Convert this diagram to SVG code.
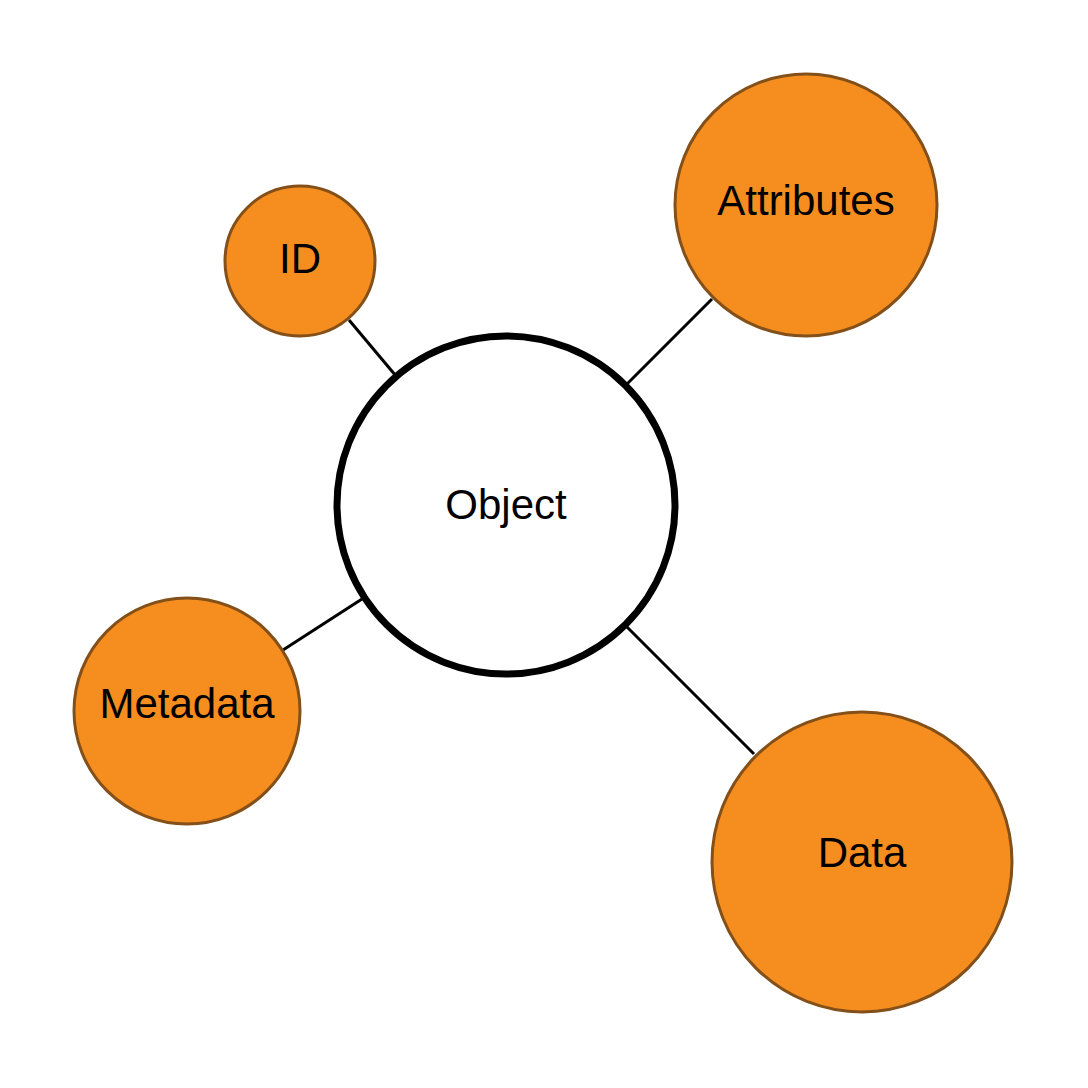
<svg xmlns="http://www.w3.org/2000/svg" width="1088" height="1088" viewBox="0 0 1088 1088">
<style>
.leaf{fill:#F68D1F;stroke:#84501A;stroke-width:3}
.core{fill:#FFFFFF;stroke:#000000;stroke-width:7}
.edge{stroke:#000000;stroke-width:3;fill:none}
text{font-family:"Liberation Sans",Arial,sans-serif;font-size:42px;fill:#000000;text-anchor:middle}
</style>
<rect width="1088" height="1088" fill="#FFFFFF"/>
<g id="connectors">
<line class="edge" x1="349" y1="320" x2="396" y2="376"/>
<line class="edge" x1="712" y1="299" x2="627" y2="384"/>
<line class="edge" x1="283" y1="650" x2="362" y2="599"/>
<line class="edge" x1="627" y1="627" x2="754" y2="754"/>
</g>
<g id="object">
<circle class="core" cx="506" cy="505" r="169"/>
<text x="506" y="519">Object</text>
</g>
<g id="id">
<circle class="leaf" cx="300" cy="261" r="75"/>
<text x="300" y="273">ID</text>
</g>
<g id="attributes">
<circle class="leaf" cx="806" cy="205" r="131"/>
<text x="806" y="215">Attributes</text>
</g>
<g id="metadata">
<circle class="leaf" cx="187" cy="711" r="113"/>
<text x="187" y="718">Metadata</text>
</g>
<g id="data">
<circle class="leaf" cx="862" cy="862" r="150"/>
<text x="862" y="867">Data</text>
</g>
</svg>
